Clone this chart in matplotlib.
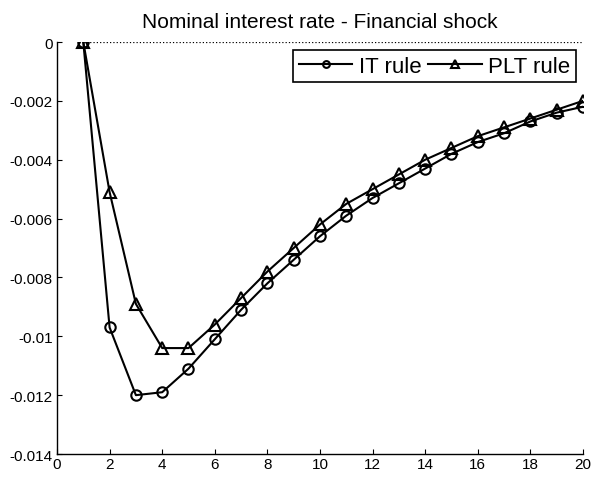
import matplotlib.pyplot as plt
import numpy as np

plt.rcParams['font.family'] = ['Liberation Sans', 'DejaVu Sans']

periods = np.arange(1, 21)
it_rule = [0, -0.0097, -0.0120, -0.0119, -0.0111, -0.0101, -0.0091, -0.0082, -0.0074, -0.0066,
           -0.0059, -0.0053, -0.0048, -0.0043, -0.0038, -0.0034, -0.0031, -0.0027, -0.0024, -0.0022]
plt_rule = [0, -0.0051, -0.0089, -0.0104, -0.0104, -0.0096, -0.0087, -0.0078, -0.0070, -0.0062,
            -0.0055, -0.0050, -0.0045, -0.0040, -0.0036, -0.0032, -0.0029, -0.0026, -0.0023, -0.0020]
yticks = [0, -0.002, -0.004, -0.006, -0.008, -0.01, -0.012, -0.014]
ylabels = ['0', '-0.002', '-0.004', '-0.006', '-0.008', '-0.01', '-0.012', '-0.014']

fig = plt.figure(figsize=(5.95, 4.81), dpi=100)
ax = fig.add_axes([0.0958, 0.054, 0.884, 0.8566])

# zero reference line
ax.plot(periods, np.zeros(len(periods)), color='k', ls=':', lw=0.9)
ax.plot(periods, it_rule, color='k', lw=1.5, marker='o', ms=7.5, mfc='none', mew=1.5, label='IT rule')
ax.plot(periods, plt_rule, color='k', lw=1.5, marker='^', ms=8.5, mfc='none', mew=1.5, label='PLT rule')

ax.set_xlim(0, 20)
ax.set_ylim(-0.014, 0)
ax.set_xticks(range(0, 21, 2))
ax.set_yticks(yticks)
ax.set_yticklabels(ylabels)
ax.tick_params(direction='in', length=3.5, labelsize=11, colors='k', width=0.8)
ax.tick_params(axis='x', pad=2.5)
ax.tick_params(axis='y', pad=3)
for s in ['top', 'right']:
    ax.spines[s].set_visible(False)
for s in ['left', 'bottom']:
    ax.spines[s].set_linewidth(1.0)

ax.set_title('Nominal interest rate - Financial shock', fontsize=15, pad=11)
leg = ax.legend(loc='upper right', ncol=2, fontsize=16, frameon=True, fancybox=False,
                edgecolor='k', framealpha=1, handlelength=2.4, columnspacing=0.3,
                handletextpad=0.3, borderpad=0.25, borderaxespad=0, markerscale=0.65,
                bbox_to_anchor=(576 / 595, 1 - 51 / 481), bbox_transform=fig.transFigure)
leg.get_frame().set_linewidth(1.2)

fig.savefig('out.png', dpi=100)
